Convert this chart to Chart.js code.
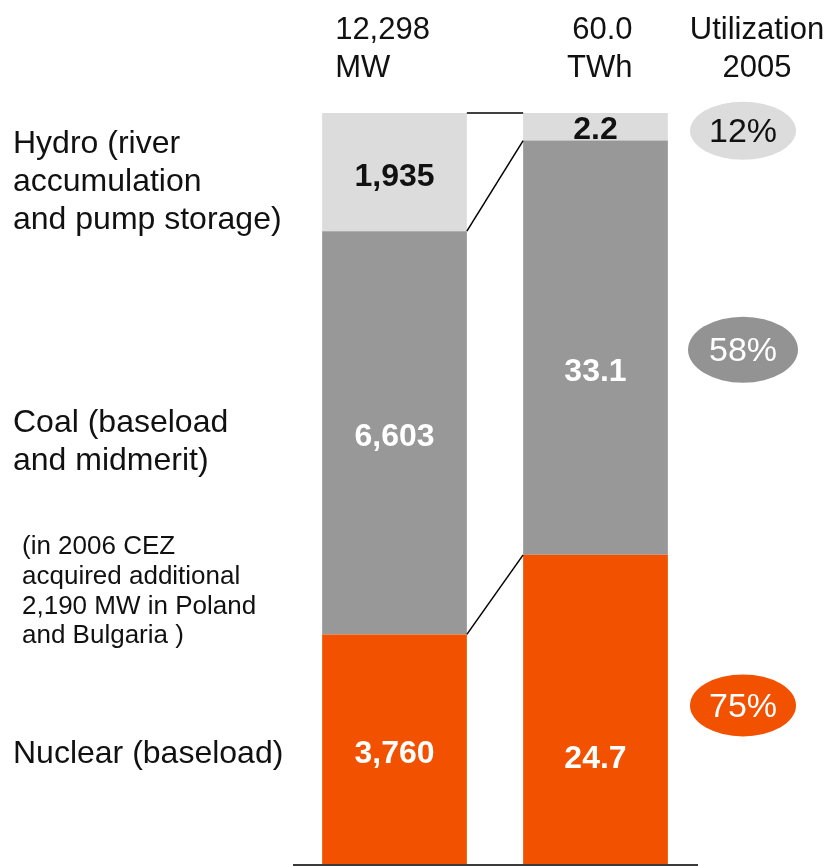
<!DOCTYPE html>
<html>
<head>
<meta charset="utf-8">
<script src="https://cdn.jsdelivr.net/npm/chart.js@4"></script>
<style>
html,body{margin:0;padding:0;background:#fff;}
#wrap{position:relative;width:831px;height:866px;}
</style>
</head>
<body>
<div id="wrap"><canvas id="c" width="831" height="866"></canvas></div>
<script>
// ---- data ----
const categories = ['MW', 'TWh'];
const totalLabels = ['12,298', '60.0'];
const nuclear = [3760, 24.7];
const coal = [6603, 33.1];
const hydro = [1935, 2.2];
const nuclearLabels = ['3,760', '24.7'];
const coalLabels = ['6,603', '33.1'];
const hydroLabels = ['1,935', '2.2'];
const utilization = ['75%', '58%', '12%'];   // nuclear, coal, hydro
const utilTitle = ['Utilization', '2005'];
const seriesNames = [['Nuclear (baseload)'], ['Coal (baseload', 'and midmerit)'], ['Hydro (river', 'accumulation', 'and pump storage)']];
const noteLines = ['(in 2006 CEZ', 'acquired additional', '2,190 MW in Poland', 'and Bulgaria )'];

// ---- derived (percent of each bar's total) ----
const totals = categories.map((_, i) => nuclear[i] + coal[i] + hydro[i]);
const pct = arr => arr.map((v, i) => v / totals[i] * 100);

const FONT = "'Liberation Sans', Arial, sans-serif";
const COLORS = ['#F25100', '#989898', '#DCDCDC'];
const TEXTCOL = ['#ffffff', '#ffffff', '#111111'];
const ELLIPSE = ['#F25100', '#939393', '#DCDCDC'];
const ELLTEXT = ['#ffffff', '#ffffff', '#111111'];
const valueLabels = [nuclearLabels, coalLabels, hydroLabels];

const overlay = {
  id: 'overlay',
  afterDatasetsDraw(chart) {
    const ctx = chart.ctx;
    const ca = chart.chartArea;
    const metas = [0, 1, 2].map(d => chart.getDatasetMeta(d));
    ctx.save();

    // connectors between bars
    ctx.strokeStyle = '#000';
    ctx.lineWidth = 1.5;
    metas.forEach(m => {
      const a = m.data[0], b = m.data[1];
      ctx.beginPath();
      ctx.moveTo(a.x + a.width / 2, a.y);
      ctx.lineTo(b.x - b.width / 2, b.y);
      ctx.stroke();
    });

    // baseline
    ctx.strokeStyle = '#3a3a3a';
    ctx.lineWidth = 2;
    ctx.beginPath();
    ctx.moveTo(ca.left - 1, ca.bottom + 1);
    ctx.lineTo(ca.right + 2, ca.bottom + 1);
    ctx.stroke();

    // value labels
    const shift = [[5, 50], [4, 24], [5, 3]];
    ctx.textAlign = 'center';
    ctx.textBaseline = 'middle';
    ctx.font = 'bold 32px ' + FONT;
    metas.forEach((m, d) => {
      m.data.forEach((el, i) => {
        ctx.fillStyle = TEXTCOL[d];
        ctx.fillText(valueLabels[d][i], el.x, (el.y + el.base) / 2 + shift[d][i]);
      });
    });

    // utilization ellipses (aligned with second bar's segments)
    const eShift = [-4, 2, 4];
    const eR = [[53, 31], [55, 33], [53, 29]];
    ctx.font = '34px ' + FONT;
    metas.forEach((m, d) => {
      const el = m.data[1];
      const cx = ca.right + 47;
      const cy = (el.y + el.base) / 2 + eShift[d];
      ctx.fillStyle = ELLIPSE[d];
      ctx.beginPath();
      ctx.ellipse(cx, cy, eR[d][0], eR[d][1], 0, 0, Math.PI * 2);
      ctx.fill();
      ctx.fillStyle = ELLTEXT[d];
      ctx.fillText(utilization[d], cx, cy + 2);
    });

    // headers
    ctx.fillStyle = '#111';
    ctx.font = '31px ' + FONT;
    const b0 = metas[0].data[0], b1 = metas[0].data[1];
    ctx.textAlign = 'left';
    ctx.fillText(totalLabels[0], b0.x - b0.width / 2 + 13, 30);
    ctx.fillText(categories[0], b0.x - b0.width / 2 + 13, 68);
    ctx.textAlign = 'right';
    ctx.fillText(totalLabels[1], b1.x + 37, 30);
    ctx.fillText(categories[1], b1.x + 37, 68);
    ctx.textAlign = 'center';
    ctx.fillText(utilTitle[0], ca.right + 61, 30);
    ctx.fillText(utilTitle[1], ca.right + 61, 68);

    // series names on the left
    ctx.textAlign = 'left';
    ctx.font = '32px ' + FONT;
    const nameShift = [5, 9, 10];
    seriesNames.forEach((lines, d) => {
      const el = metas[d].data[0];
      const cy = (el.y + el.base) / 2 + nameShift[d];
      const lh = 38;
      lines.forEach((t, k) => {
        ctx.fillText(t, 13, cy + (k - (lines.length - 1) / 2) * lh);
      });
    });

    // note
    ctx.font = '26px ' + FONT;
    noteLines.forEach((t, k) => ctx.fillText(t, 22, 547 + k * 29.7));

    ctx.restore();
  }
};

new Chart(document.getElementById('c'), {
  type: 'bar',
  data: {
    labels: categories,
    datasets: [
      { label: 'Nuclear', data: pct(nuclear), backgroundColor: COLORS[0] },
      { label: 'Coal', data: pct(coal), backgroundColor: COLORS[1] },
      { label: 'Hydro', data: pct(hydro), backgroundColor: COLORS[2] }
    ]
  },
  options: {
    responsive: false,
    animation: false,
    devicePixelRatio: 1,
    barPercentage: 0.72,
    categoryPercentage: 1,
    layout: { padding: { left: 294, right: 135, top: 113, bottom: 2 } },
    scales: {
      x: { stacked: true, display: false },
      y: { stacked: true, display: false, min: 0, max: 100 }
    },
    plugins: { legend: { display: false }, tooltip: { enabled: false } }
  },
  plugins: [overlay]
});
</script>
</body>
</html>
